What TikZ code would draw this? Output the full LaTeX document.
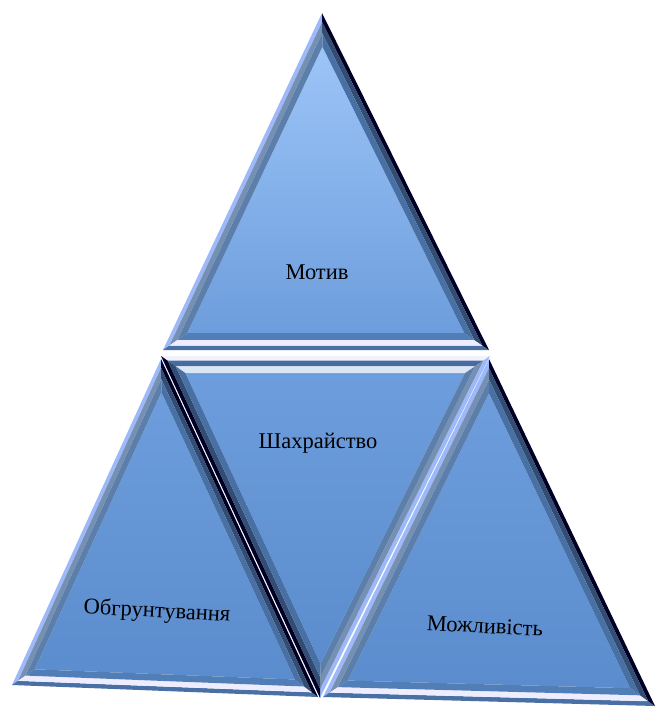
\documentclass[tikz,border=0pt]{standalone}
\usepackage{fontspec}
\setmainfont{Liberation Serif}
\usetikzlibrary{calc}

\definecolor{faceA}{HTML}{9CC5F8}
\definecolor{faceB}{HTML}{6D9DDC}
\definecolor{faceC}{HTML}{5B8CCD}

% bevelled triangle: corners #1 #2 #3, edge styles #4 (1-2), #5 (2-3), #6 (3-1), face #7
\newcommand{\bevtri}[7]{%
  \coordinate (g) at ($1/3*(#1)+1/3*(#2)+1/3*(#3)$);
  \foreach \c in {#1,#2,#3}{
    \coordinate (\c a) at ($(\c)!0.04!(g)$);
    \coordinate (\c b) at ($(\c)!0.09!(g)$);
    \coordinate (\c c) at ($(\c)!0.15!(g)$);
  }
  \path[#7] (#1c) -- (#2c) -- (#3c) -- cycle;
  \foreach \p/\q/\s in {#1/#2/#4, #2/#3/#5, #3/#1/#6}{
    \fill[\s-out] (\p) -- (\q) -- (\q a) -- (\p a) -- cycle;
    \fill[\s-mid] (\p a) -- (\q a) -- (\q b) -- (\p b) -- cycle;
    \fill[\s-in] (\p b) -- (\q b) -- (\q c) -- (\p c) -- cycle;
  }
}

\begin{document}
\begin{tikzpicture}[
    x=1pt, y=-1pt,
    lbl/.style={font=\fontsize{22.5}{26}\selectfont, text=black, inner sep=1pt},
    face1/.style={top color=faceA, bottom color=faceB},
    face2/.style={top color=faceB, bottom color=faceC},
    lite-out/.style={fill=faceA!85!blue!80!white},
    lite-mid/.style={fill=faceB!55!gray},
    lite-in/.style={fill=faceB!80!black!90!gray},
    dark-out/.style={fill=black!85!blue},
    dark-mid/.style={fill=faceC!55!black},
    dark-in/.style={fill=faceC!80!black},
    base-out/.style={fill=faceC!80!black},
    base-mid/.style={fill=white!93!blue},
    base-in/.style={fill=faceC!90!black},
    crest-out/.style={fill=white!95!blue},
    crest-mid/.style={fill=faceC!78!black},
    crest-in/.style={fill=white!75!faceB},
  ]
  \useasboundingbox (0,0) rectangle (658,713);
  % corners
  \coordinate (ta) at (322,13);
  \coordinate (tl) at (163,350);
  \coordinate (tr) at (489,350);
  \coordinate (ml) at (161,356);
  \coordinate (mr) at (490,356);
  \coordinate (mb) at (320,698);
  \coordinate (la) at (161,359);
  \coordinate (ll) at (12,685);
  \coordinate (lr) at (318,697);
  \coordinate (ra) at (489,359);
  \coordinate (rl) at (323,697);
  \coordinate (rr) at (655,706);
  % triangles
  \bevtri{ta}{tl}{tr}{lite}{base}{dark}{face1}
  \bevtri{la}{ll}{lr}{lite}{base}{dark}{face2}
  \bevtri{ra}{rl}{rr}{lite}{base}{dark}{face2}
  \bevtri{ml}{mr}{mb}{crest}{lite}{dark}{face2}
  % labels
  \node[lbl] (motiv) at (317,272) {Мотив};
  \node[lbl] (shakh) at (318,443) {Шахрайство};
  \node[lbl, rotate=-3] (obgr) at (157,612) {Обгрунтування};
  \node[lbl, rotate=-3] (mozh) at (485,626) {Можливість};
\end{tikzpicture}
\end{document}
